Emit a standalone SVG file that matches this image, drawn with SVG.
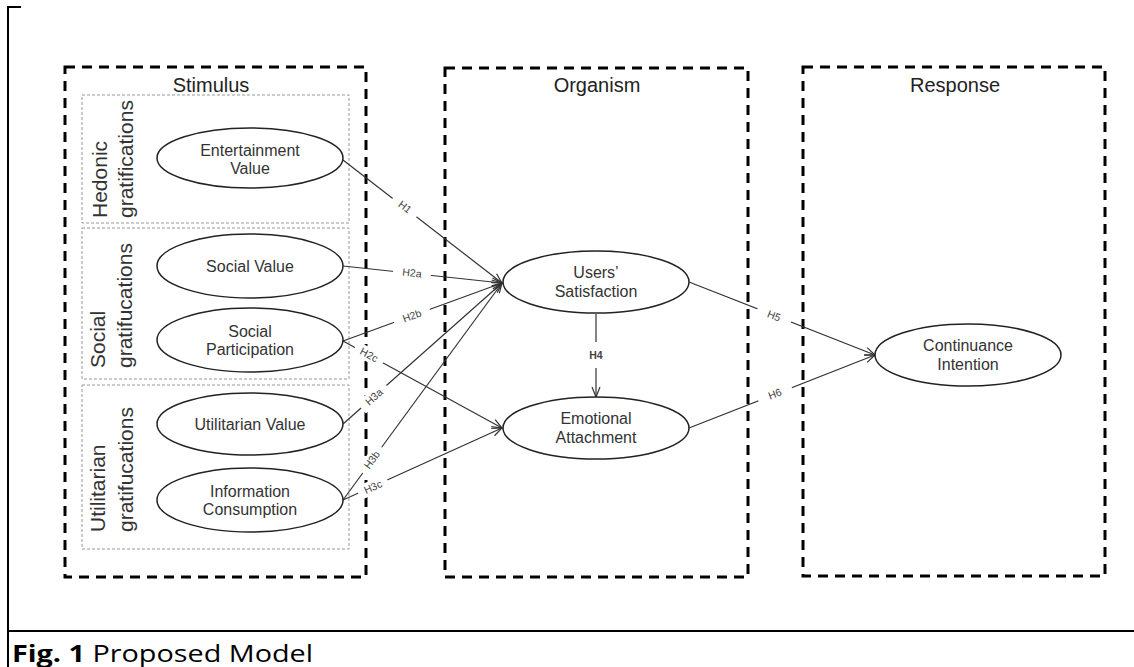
<svg xmlns="http://www.w3.org/2000/svg" width="1134" height="667" viewBox="0 0 1134 667">
<style>
.frame{stroke:#000;stroke-width:2;fill:none}
.bigbox{fill:none;stroke:#000;stroke-width:3;stroke-dasharray:10 7}
.subbox{fill:none;stroke:#999;stroke-width:1;stroke-dasharray:3 2}
.title{font-family:"Liberation Sans",Arial,sans-serif;font-size:20px;fill:#222;text-anchor:middle}
.grp{font-family:"Liberation Sans",Arial,sans-serif;font-size:21px;fill:#333}
.node ellipse{fill:#fff;stroke:#222;stroke-width:1.5}
.node text{font-family:"Liberation Sans",Arial,sans-serif;font-size:16px;fill:#333;text-anchor:middle}
.conn line{stroke:#333;stroke-width:1.2;fill:none}
.lbl rect{fill:#fff}
.lbl text{font-family:"Liberation Sans",Arial,sans-serif;font-size:10.5px;fill:#444;text-anchor:middle}
.cap{font-family:"Open Sans","Liberation Sans",sans-serif;font-size:24px;fill:#000}
</style>
<defs>
<marker id="arr" markerUnits="userSpaceOnUse" markerWidth="12" markerHeight="10" refX="11" refY="5" orient="auto">
<path d="M1,1 L11,5 L1,9" fill="none" stroke="#333" stroke-width="1.2"/>
</marker>
</defs>
<rect width="1134" height="667" fill="#fff"/>
<g id="frame">
<path class="frame" d="M21,7 H8 V667"/>
<line class="frame" x1="7" y1="631" x2="1134" y2="631"/>
<text class="cap" x="12" y="662" textLength="301" lengthAdjust="spacingAndGlyphs"><tspan font-weight="bold">Fig. 1</tspan> Proposed Model</text>
</g>
<g id="stimulus">
<rect class="bigbox" x="65" y="67" width="301" height="510"/>
<text class="title" x="211" y="92">Stimulus</text>
<rect class="subbox" x="82" y="95" width="267" height="128"/>
<rect class="subbox" x="82" y="228" width="267" height="151"/>
<rect class="subbox" x="82" y="385" width="267" height="164"/>
<text class="grp" transform="translate(107,218) rotate(-90)">Hedonic</text>
<text class="grp" transform="translate(133,218) rotate(-90)">gratifications</text>
<text class="grp" transform="translate(105,368) rotate(-90)">Social</text>
<text class="grp" transform="translate(132,368) rotate(-90)">gratifucations</text>
<text class="grp" transform="translate(105,532) rotate(-90)">Utilitarian</text>
<text class="grp" transform="translate(133,532) rotate(-90)">gratifucations</text>
</g>
<g id="organism">
<rect class="bigbox" x="445" y="68" width="303" height="509"/>
<text class="title" x="597" y="92">Organism</text>
</g>
<g id="response">
<rect class="bigbox" x="803" y="67" width="302" height="509"/>
<text class="title" x="955" y="92">Response</text>
</g>
<g id="connectors" class="conn">
<line x1="343" y1="160" x2="502" y2="283" marker-end="url(#arr)"/>
<line x1="343" y1="266" x2="502" y2="283" marker-end="url(#arr)"/>
<line x1="343" y1="341" x2="502" y2="283" marker-end="url(#arr)"/>
<line x1="343" y1="341" x2="502" y2="428" marker-end="url(#arr)"/>
<line x1="343" y1="424" x2="502" y2="283" marker-end="url(#arr)"/>
<line x1="343" y1="500" x2="502" y2="283" marker-end="url(#arr)"/>
<line x1="343" y1="500" x2="502" y2="428" marker-end="url(#arr)"/>
<line x1="596" y1="314" x2="596" y2="397" marker-end="url(#arr)"/>
<line x1="689" y1="282" x2="875" y2="355" marker-end="url(#arr)"/>
<line x1="689" y1="428" x2="875" y2="355" marker-end="url(#arr)"/>
</g>
<g id="n-entertainment" class="node"><ellipse cx="250" cy="158" rx="93" ry="30"/><text x="250" y="156">Entertainment</text><text x="250" y="174">Value</text></g>
<g id="n-socialvalue" class="node"><ellipse cx="250" cy="266" rx="93" ry="32"/><text x="250" y="272">Social Value</text></g>
<g id="n-socialpart" class="node"><ellipse cx="250" cy="340" rx="93" ry="32"/><text x="250" y="337">Social</text><text x="250" y="355">Participation</text></g>
<g id="n-utilitarian" class="node"><ellipse cx="250" cy="424" rx="93" ry="31"/><text x="250" y="430">Utilitarian Value</text></g>
<g id="n-information" class="node"><ellipse cx="250" cy="500" rx="93" ry="32"/><text x="250" y="497">Information</text><text x="250" y="515">Consumption</text></g>
<g id="n-satisfaction" class="node"><ellipse cx="596" cy="282" rx="93" ry="31"/><text x="596" y="278">Users’</text><text x="596" y="297">Satisfaction</text></g>
<g id="n-attachment" class="node"><ellipse cx="596" cy="428" rx="93" ry="31"/><text x="596" y="424">Emotional</text><text x="596" y="443">Attachment</text></g>
<g id="n-continuance" class="node"><ellipse cx="968" cy="355" rx="93" ry="31"/><text x="968" y="351">Continuance</text><text x="968" y="370">Intention</text></g>
<g id="labels" class="lbl">
<g transform="translate(405,207) rotate(37.7)"><rect x="-15" y="-7" width="30" height="14"/><text y="3.5">H1</text></g>
<g transform="translate(412,273) rotate(6.1)"><rect x="-19" y="-7" width="38" height="14"/><text y="3.5">H2a</text></g>
<g transform="translate(412,316) rotate(-20)"><rect x="-19" y="-7" width="38" height="14"/><text y="3.5">H2b</text></g>
<g transform="translate(369,355) rotate(28.7)"><rect x="-16" y="-7" width="32" height="14"/><text y="3.5">H2c</text></g>
<g transform="translate(374,397) rotate(-41.6)"><rect x="-17" y="-7" width="34" height="14"/><text y="3.5">H3a</text></g>
<g transform="translate(372,460) rotate(-53.8)"><rect x="-16" y="-7" width="32" height="14"/><text y="3.5">H3b</text></g>
<g transform="translate(373,487) rotate(-24.4)"><rect x="-16" y="-7" width="32" height="14"/><text y="3.5">H3c</text></g>
<g transform="translate(596,355)"><rect x="-12" y="-13" width="24" height="26"/><text y="3.5" font-weight="bold">H4</text></g>
<g transform="translate(774,316) rotate(21.4)"><rect x="-18" y="-7" width="36" height="14"/><text y="3.5">H5</text></g>
<g transform="translate(775,394) rotate(-21.4)"><rect x="-18" y="-7" width="36" height="14"/><text y="3.5">H6</text></g>
</g>
</svg>
